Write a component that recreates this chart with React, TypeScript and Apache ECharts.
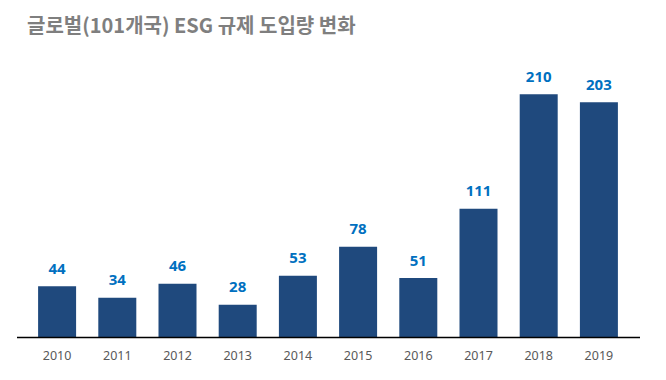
import React, { useEffect, useRef } from "react";
import * as echarts from "echarts";

const categories = ["2010", "2011", "2012", "2013", "2014", "2015", "2016", "2017", "2018", "2019"];
const values = [44, 34, 46, 28, 53, 78, 51, 111, 210, 203];
const titleText = "글로벌(101개국) ESG 규제 도입량 변화";

export default function App() {
  const ref = useRef<HTMLDivElement>(null);
  useEffect(() => {
    if (!ref.current) return;
    const chart = echarts.init(ref.current, null, { renderer: "svg" });
    chart.setOption({
      animation: false,
      backgroundColor: "#ffffff",
      title: {
        text: titleText,
        left: 22,
        top: 9,
        textStyle: {
          fontFamily: "'Noto Sans CJK KR', sans-serif",
          fontSize: 20,
          fontWeight: "bold",
          color: "#7f7f7f",
        },
      },
      grid: { left: 27, right: 37, top: 48, bottom: 43 },
      xAxis: {
        type: "category",
        data: categories,
        axisLine: { show: false },
        axisTick: { show: false },
        axisLabel: {
          color: "#595959",
          fontSize: 12.5,
          fontFamily: "'Noto Sans', sans-serif",
          margin: 12,
        },
      },
      yAxis: {
        type: "value",
        min: 0,
        max: 250,
        show: false,
        splitLine: { show: false },
      },
      graphic: [
        {
          type: "line",
          shape: { x1: 17, y1: 337.5, x2: 640, y2: 337.5 },
          style: { stroke: "#000000", lineWidth: 1.5 },
          z: 10,
        },
      ],
      series: [
        {
          type: "bar",
          data: values,
          barWidth: 38,
          itemStyle: { color: "#1f497d" },
          label: {
            show: true,
            position: "top",
            distance: 11,
            color: "#0070c0",
            fontSize: 15,
            fontWeight: "bold",
            fontFamily: "'Noto Sans', sans-serif",
          },
        },
      ],
    });
    return () => chart.dispose();
  }, []);
  return <div ref={ref} style={{ width: 666, height: 380, position: "absolute", left: 0, top: 0 }} />;
}
